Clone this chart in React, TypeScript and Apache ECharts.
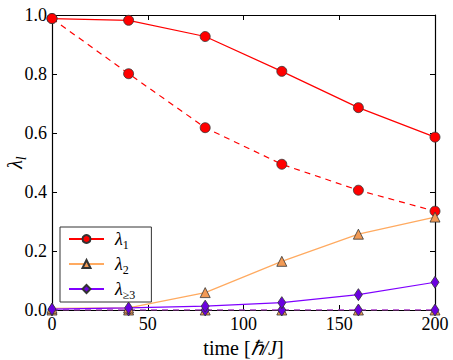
import React, { useEffect, useRef } from "react";
import * as echarts from "echarts";

const times = [0, 40, 80, 120, 160, 200];
const lambda1 = [0.988, 0.982, 0.927, 0.809, 0.686, 0.586];
const lambda1Dashed = [0.988, 0.801, 0.618, 0.494, 0.406, 0.335];
const lambda2 = [0.006, 0.007, 0.059, 0.165, 0.257, 0.315];
const lambda2Dashed = [0, 0, 0, 0, 0, 0];
const lambda3 = [0.003, 0.007, 0.013, 0.025, 0.052, 0.094];
const lambda3Dashed = [0, 0, 0, 0, 0, 0];
const xTicks = [0, 50, 100, 150, 200];
const yTicks = [0, 0.2, 0.4, 0.6, 0.8, 1.0];

const FONT = "Liberation Serif";
const RED = "#ff0000";
const ORANGE_LINE = "#ffaa60";
const ORANGE_MARK = "#f29a55";
const PURPLE = "#7f00ff";
const PURPLE_MARK = "#6a00e0";

const pts = (ys: number[]) => times.map((t, i) => [t, ys[i]]);

export default function App() {
  const ref = useRef<HTMLDivElement>(null);
  useEffect(() => {
    if (!ref.current) return;
    const chart = echarts.init(ref.current, undefined, { renderer: "svg" });
    const baseAxis = {
      axisLine: { show: true, onZero: false, lineStyle: { color: "#000", width: 1.2 } },
      axisTick: { show: true, inside: true, length: 5, lineStyle: { color: "#000" } },
      splitLine: { show: false },
    };
    const legendRich = {
      l: { fontFamily: FONT, fontSize: 18, fontStyle: "italic", color: "#000" },
      s: { fontFamily: FONT, fontSize: 12, color: "#000", padding: [12, 0, 0, 0] },
    };
    const names: Record<string, string> = {
      l1: "{l|λ}{s|1}",
      l2: "{l|λ}{s|2}",
      l3: "{l|λ}{s|≥3}",
    };
    const lineSeries = (
      name: string,
      data: number[],
      color: string,
      markColor: string,
      symbol: string,
      size: any,
      dashed: boolean
    ) => ({
      type: "line",
      name,
      data: pts(data),
      symbol,
      symbolSize: size,
      showAllSymbol: true,
      clip: true,
      lineStyle: { color, width: 1.2, type: dashed ? [6, 5] : "solid" },
      itemStyle: { color: markColor, borderColor: "#333", borderWidth: 0.8 },
      z: dashed ? 2 : 3,
    });
    chart.setOption({
      animation: false,
      textStyle: { fontFamily: FONT },
      grid: { left: 52, right: 18, top: 15, bottom: 50, containLabel: false, outerBoundsMode: "none" },
      xAxis: [
        {
          ...baseAxis,
          type: "value",
          min: 0,
          max: 200,
          interval: 50,
          position: "bottom",
          axisLabel: {
            fontFamily: FONT,
            fontSize: 18,
            color: "#000",
            margin: 5,
            formatter: (v: number) => (xTicks.includes(v) ? String(v) : ""),
          },
          name: "{n|time [}{i|ℏ/J}{n|]}",
          nameLocation: "middle",
          nameGap: 24,
          nameTextStyle: {
            fontFamily: FONT,
            rich: {
              n: { fontFamily: FONT, fontSize: 20, color: "#000" },
              i: { fontFamily: FONT, fontSize: 20, fontStyle: "italic", color: "#000" },
            },
          },
        },
        {
          ...baseAxis,
          type: "value",
          min: 0,
          max: 200,
          interval: 50,
          position: "top",
          axisLabel: { show: false },
        },
      ],
      yAxis: [
        {
          ...baseAxis,
          type: "value",
          min: 0,
          max: 1,
          interval: 0.2,
          position: "left",
          axisLabel: {
            fontFamily: FONT,
            fontSize: 18,
            color: "#000",
            margin: 5,
            formatter: (v: number) =>
              yTicks.some((t) => Math.abs(t - v) < 1e-9) ? v.toFixed(1) : "",
          },
          name: "{l|λ}{s|l}",
          nameLocation: "middle",
          nameRotate: 90,
          nameGap: 37,
          nameMoveOverlap: false,
          nameTextStyle: {
            fontFamily: FONT,
            align: "center",
            verticalAlign: "middle",
            rich: {
              l: { fontFamily: FONT, fontSize: 20, fontStyle: "italic", color: "#000" },
              s: { fontFamily: FONT, fontSize: 14, fontStyle: "italic", color: "#000", padding: [12, 0, 0, 0] },
            },
          },
        },
        {
          ...baseAxis,
          type: "value",
          min: 0,
          max: 1,
          interval: 0.2,
          position: "right",
          axisLabel: { show: false },
        },
      ],
      legend: {
        show: true,
        data: ["l1", "l2", "l3"],
        orient: "vertical",
        left: 60,
        bottom: 58,
        itemWidth: 35,
        itemHeight: 10,
        itemGap: 4,
        padding: [3, 16, 1, 8],
        backgroundColor: "#fff",
        borderColor: "#333",
        borderWidth: 1,
        borderRadius: 0,
        formatter: (n: string) => names[n] || n,
        textStyle: { fontFamily: FONT, color: "#000", rich: legendRich, padding: [0, 0, 0, 6] },
      },
      series: [
        lineSeries("l1", lambda1, RED, RED, "circle", 10, false),
        lineSeries("l1d", lambda1Dashed, RED, RED, "circle", 10, true),
        lineSeries("l2", lambda2, ORANGE_LINE, ORANGE_MARK, "triangle", 10, false),
        lineSeries("l2d", lambda2Dashed, ORANGE_LINE, ORANGE_MARK, "triangle", 10, true),
        lineSeries("l3", lambda3, PURPLE, PURPLE_MARK, "diamond", [8, 12], false),
        lineSeries("l3d", lambda3Dashed, PURPLE, PURPLE_MARK, "diamond", [8, 12], true),
      ],
    });
    return () => chart.dispose();
  }, []);
  return <div ref={ref} style={{ width: 453, height: 360, position: "absolute", left: 0, top: 0 }} />;
}
